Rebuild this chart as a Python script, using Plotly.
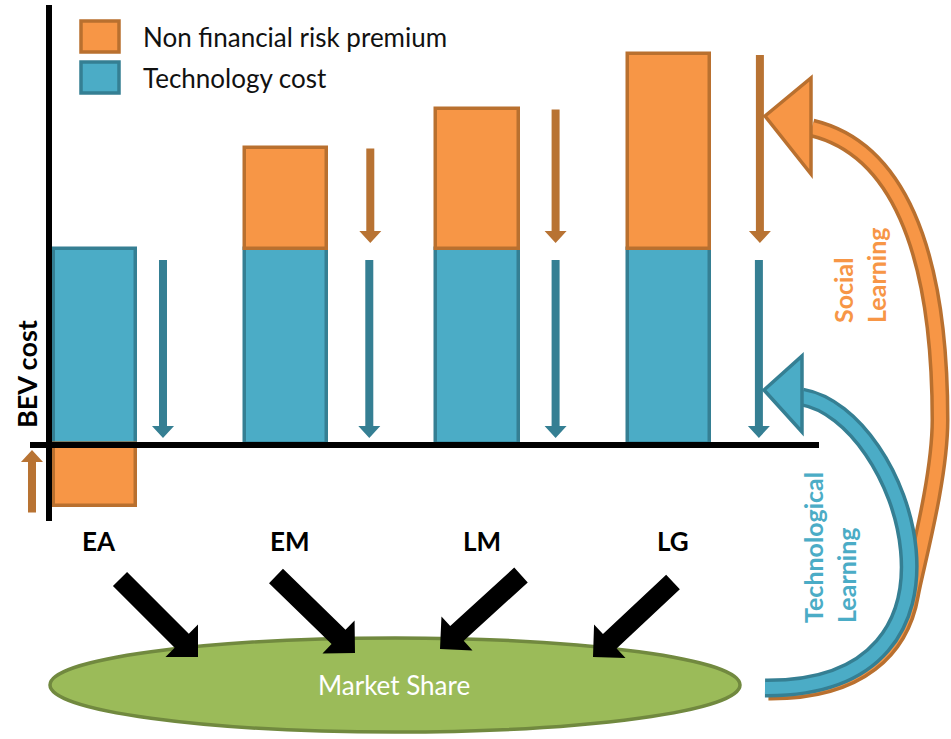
import math
import plotly.graph_objects as go

# ---------------- data ----------------
categories = ["EA", "EM", "LM", "LG"]
technology_cost = [1.0, 1.0, 1.0, 1.0]
risk_premium = [-0.32, 0.52, 0.72, 1.0]
series_names = ["Non financial risk premium", "Technology cost"]
y_axis_title = "BEV cost"
ellipse_label = "Market Share"
social_label = "Social<br>Learning"
tech_label = "Technological<br>Learning"

# ---------------- styling / geometry ----------------
W, H = 951, 739
SX, SY = 191.3, 195.0          # pixels per data unit
X_ORIGIN, Y_BASE = 95.0, 444.0  # pixel of category 0 / of y = 0

ORANGE, ORANGE_D, ORANGE_A = "#F79646", "#B9702F", "#B87333"
BLUE, BLUE_D = "#4BACC6", "#357F93"
GREEN, GREEN_D = "#9BBB59", "#71893F"
FONT = "Lato"

blue_arrow_off = [68, 83, 78, 90]
orange_arrow_off = [-63, 84, 78, 91]


def dpx(xd):
    return X_ORIGIN + xd * SX


def dpy(yd):
    return Y_BASE - yd * SY


def px(x):
    return x / W


def py(y):
    return 1 - y / H


def P(x, y):
    return f"{px(x):.5f},{py(y):.5f}"


def arrow_path(x0, y0, x1, y1, sw, hw, hl):
    dx, dy = x1 - x0, y1 - y0
    L = math.hypot(dx, dy)
    ux, uy = dx / L, dy / L
    nx, ny = -uy, ux
    bx, by = x1 - ux * hl, y1 - uy * hl
    pts = [
        (x0 + nx * sw / 2, y0 + ny * sw / 2),
        (bx + nx * sw / 2, by + ny * sw / 2),
        (bx + nx * hw / 2, by + ny * hw / 2),
        (x1, y1),
        (bx - nx * hw / 2, by - ny * hw / 2),
        (bx - nx * sw / 2, by - ny * sw / 2),
        (x0 - nx * sw / 2, y0 - ny * sw / 2),
    ]
    return "M " + " L ".join(P(*p) for p in pts) + " Z"


def lerp(a, b, t):
    return (a[0] + (b[0] - a[0]) * t, a[1] + (b[1] - a[1]) * t)


def split_right(b, t):
    p0, p1, p2, p3 = b
    a, bb, c = lerp(p0, p1, t), lerp(p1, p2, t), lerp(p2, p3, t)
    d, e = lerp(a, bb, t), lerp(bb, c, t)
    f = lerp(d, e, t)
    return [f, e, c, p3]


xs = list(range(len(categories)))

fig = go.Figure()
fig.add_trace(go.Bar(x=xs, y=technology_cost, name=series_names[1],
                     width=0.43, marker=dict(color=BLUE, line=dict(color=BLUE_D, width=3.5)),
                     showlegend=False))
fig.add_trace(go.Bar(x=xs, y=risk_premium, name=series_names[0],
                     width=0.43, marker=dict(color=ORANGE, line=dict(color=ORANGE_D, width=3.5)),
                     showlegend=False))

shapes = []
annotations = []

# axes lines
shapes.append(dict(type="line", xref="paper", yref="paper", x0=px(49), x1=px(49),
                   y0=py(5), y1=py(521), line=dict(color="black", width=6)))
shapes.append(dict(type="line", xref="paper", yref="paper", x0=px(30), x1=px(819),
                   y0=py(Y_BASE + 1), y1=py(Y_BASE + 1), line=dict(color="black", width=6)))

# legend
for i, (nm, fc, lc) in enumerate([(series_names[0], ORANGE, ORANGE_D), (series_names[1], BLUE, BLUE_D)]):
    top = 21 + i * 41
    shapes.append(dict(type="rect", xref="paper", yref="paper", x0=px(81), x1=px(119),
                       y0=py(top), y1=py(top + 31), fillcolor=fc, line=dict(color=lc, width=3.5)))
    annotations.append(dict(xref="paper", yref="paper", x=px(141), y=py(top + 16), text=nm,
                            showarrow=False, xanchor="left", yanchor="middle",
                            font=dict(family=FONT, size=26, color="#111111")))

# vertical learning arrows next to bars (derived from data)
for i in xs:
    t = technology_cost[i]
    p = risk_premium[i]
    xb = dpx(i) + blue_arrow_off[i]
    shapes.append(dict(type="path", xref="paper", yref="paper",
                       path=arrow_path(xb, dpy(t) + 11, xb, dpy(0) - 6, 8, 22, 12),
                       fillcolor=BLUE_D, line=dict(width=0)))
    xo = dpx(i) + orange_arrow_off[i]
    if p > 0:
        shapes.append(dict(type="path", xref="paper", yref="paper",
                           path=arrow_path(xo, dpy(t + p) + 1, xo, dpy(t) - 6, 8, 22, 12),
                           fillcolor=ORANGE_A, line=dict(width=0)))
    else:
        shapes.append(dict(type="path", xref="paper", yref="paper",
                           path=arrow_path(xo, dpy(p) + 6, xo, dpy(0) + 6, 8, 22, 12),
                           fillcolor=ORANGE_A, line=dict(width=0)))

# category labels
for i, c in enumerate(categories):
    annotations.append(dict(xref="paper", yref="paper", x=px(dpx(i) + 4), y=py(541), text=f"<b>{c}</b>",
                            showarrow=False, xanchor="center", yanchor="middle",
                            font=dict(family=FONT, size=26, color="black")))

# y title
annotations.append(dict(xref="paper", yref="paper", x=px(26), y=py(374), text=f"<b>{y_axis_title}</b>",
                        textangle=-90, showarrow=False, xanchor="center", yanchor="middle",
                        font=dict(family=FONT, size=27, color="black")))

# ellipse
shapes.append(dict(type="circle", xref="paper", yref="paper", x0=px(50), x1=px(740),
                   y0=py(638), y1=py(732), fillcolor=GREEN, line=dict(color=GREEN_D, width=3.5)))
annotations.append(dict(xref="paper", yref="paper", x=px(394), y=py(685), text=ellipse_label,
                        showarrow=False, xanchor="center", yanchor="middle",
                        font=dict(family=FONT, size=26, color="white")))

# black arrows into the ellipse
for (x0, y0, x1, y1) in [(120, 579, 198, 657), (276, 576, 355, 653), (521, 575, 440, 649), (673, 582, 593, 657)]:
    shapes.append(dict(type="path", xref="paper", yref="paper",
                       path=arrow_path(x0, y0, x1, y1, 20, 46, 23),
                       fillcolor="black", line=dict(width=0)))

# curved learning arrows
blue_bez = [(802, 397), (905, 415), (995, 690), (765, 688)]
blue_curve = "M {} C {} {} {}".format(*[P(*q) for q in blue_bez])

off = (3.5, 3.0)
r = split_right(blue_bez, 0.6)
r = [(q[0] + off[0], q[1] + off[1]) for q in r]
tdx, tdy = r[1][0] - r[0][0], r[1][1] - r[0][1]
tl = math.hypot(tdx, tdy)
c2 = (r[0][0] - tdx / tl * 25, r[0][1] - tdy / tl * 25)
orange_curve = (f"M {P(812,128)} C {P(895,148)} {P(940,245)} {P(940,420)} "
                f"C {P(940,480)} {P(*c2)} {P(*r[0])} "
                f"C {P(*r[1])} {P(*r[2])} {P(*r[3])}")

for path, fc, lc in [(orange_curve, ORANGE, ORANGE_D), (blue_curve, BLUE, BLUE_D)]:
    shapes.append(dict(type="path", xref="paper", yref="paper", path=path,
                       line=dict(color=lc, width=19), fillcolor="rgba(0,0,0,0)"))
    shapes.append(dict(type="path", xref="paper", yref="paper", path=path,
                       line=dict(color=fc, width=12), fillcolor="rgba(0,0,0,0)"))
shapes.append(dict(type="path", xref="paper", yref="paper",
                   path=f"M {P(765,116)} L {P(811,78)} L {P(811,174)} Z",
                   fillcolor=ORANGE, line=dict(color=ORANGE_D, width=3.5)))
shapes.append(dict(type="path", xref="paper", yref="paper",
                   path=f"M {P(764,390)} L {P(802,356)} L {P(802,432)} Z",
                   fillcolor=BLUE, line=dict(color=BLUE_D, width=3.5)))

annotations.append(dict(xref="paper", yref="paper", x=px(860), y=py(276), text=f"<b>{social_label}</b>",
                        textangle=-90, showarrow=False, xanchor="center", yanchor="middle", align="left",
                        font=dict(family=FONT, size=25, color=ORANGE)))
annotations.append(dict(xref="paper", yref="paper", x=px(829), y=py(548), text=f"<b>{tech_label}</b>",
                        textangle=-90, showarrow=False, xanchor="center", yanchor="middle", align="left",
                        font=dict(family=FONT, size=25, color=BLUE)))

fig.update_layout(
    width=W, height=H, margin=dict(l=0, r=0, t=0, b=0),
    paper_bgcolor="white", plot_bgcolor="white",
    barmode="relative", bargap=0,
    xaxis=dict(range=[(0 - X_ORIGIN) / SX, (W - X_ORIGIN) / SX], visible=False, fixedrange=True),
    yaxis=dict(range=[(Y_BASE - H) / SY, Y_BASE / SY], visible=False, fixedrange=True),
    shapes=shapes, annotations=annotations,
)

fig.write_html("out.html", config={"displayModeBar": False},
               post_script="document.body.style.margin='0';")
